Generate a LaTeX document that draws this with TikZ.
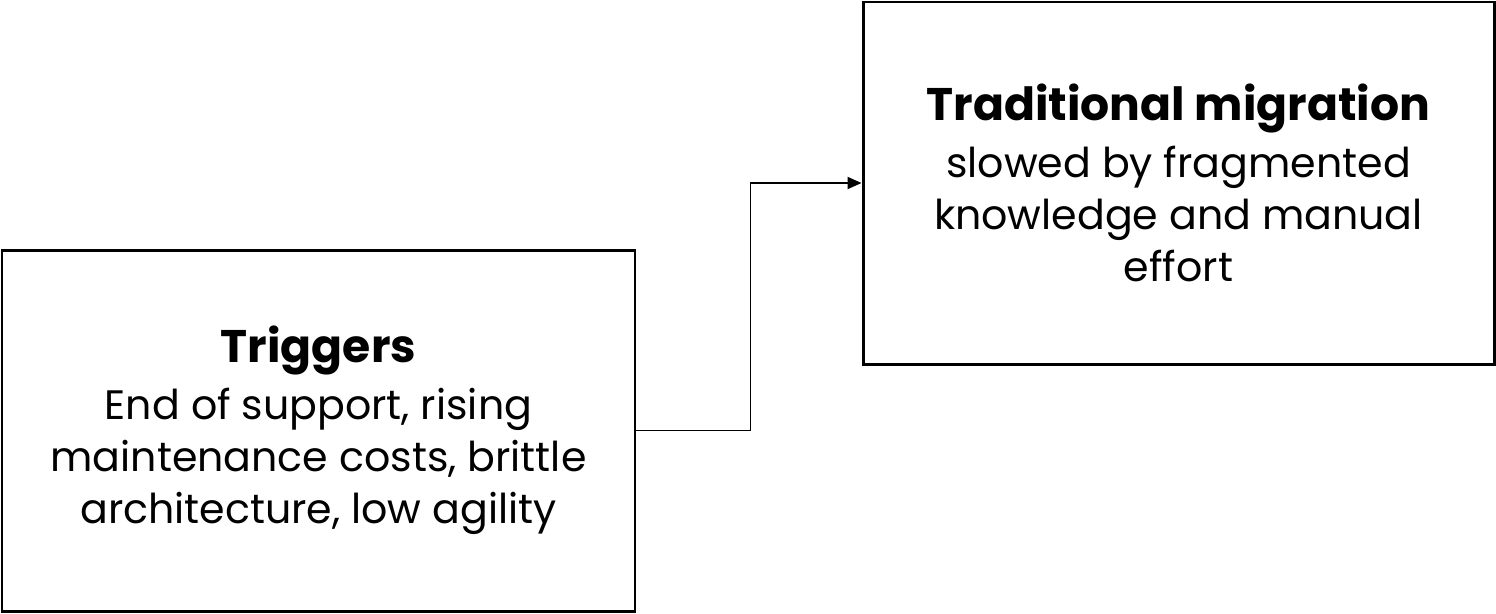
\documentclass[tikz,border=0pt]{standalone}
\usepackage{fontspec}
\setmainfont{Poppins}
\usetikzlibrary{arrows.meta}
\tikzset{
  box/.style={
    draw=black,
    line width=1.7pt,
    align=center,
    inner sep=0pt,
    font=\fontsize{23.4}{29.5}\selectfont
  },
  link/.style={
    draw=black,
    line width=1.1pt,
    -{Triangle[length=0.28cm,width=0.24cm]}
  }
}
\newcommand{\boxtitle}[1]{{\fontsize{26}{29.5}\selectfont\bfseries #1}}

\begin{document}
\begin{tikzpicture}
  \useasboundingbox (0,0) rectangle (29.92,-12.26);

  \node[box, minimum width=12.66cm, minimum height=7.22cm] (trig) at (6.37,-8.61)
    {\boxtitle{Triggers}\\[3pt]End of support, rising\\maintenance costs, brittle\\architecture, low agility};
  \node[box, minimum width=12.62cm, minimum height=7.24cm] (trad) at (23.57,-3.66)
    {\boxtitle{Traditional migration}\\[3pt]slowed by fragmented\\knowledge and manual\\effort};

  % step up from the triggers to the migration box
  \draw[link] (trig.east) -- ++(2.28,0) |- (trad.west);
\end{tikzpicture}
\end{document}
